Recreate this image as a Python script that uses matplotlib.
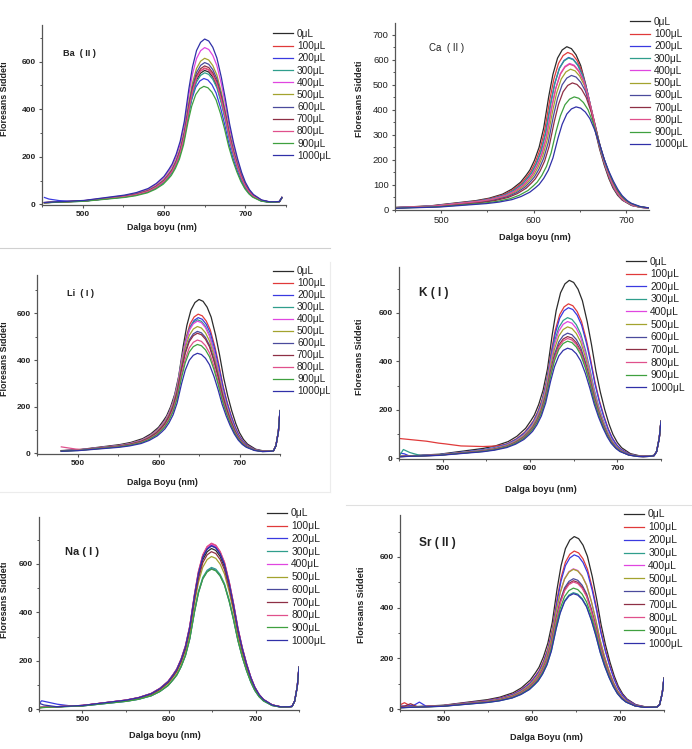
import numpy as np
import matplotlib.pyplot as plt
from matplotlib.lines import Line2D

W, H = 692, 749
DPI = 100
plt.rcParams['font.family'] = ['Liberation Sans', 'DejaVu Sans']

# ---- shared legend ----
LABELS = ['0μL', '100μL', '200μL', '300μL', '400μL', '500μL',
          '600μL', '700μL', '800μL', '900μL', '1000μL']
COLORS = ['#2b2b2b', '#e03a3a', '#3a3ae0', '#2f9e8c', '#e046e0', '#a3a32e',
          '#4a4a9c', '#8e2f45', '#e0508c', '#3fa03f', '#3030a8']

# ---- shared band shape (offset from peak in nm, relative intensity) ----
SHAPE_DX = [-200, -150, -100, -85, -70, -60, -50, -45, -40, -35, -30, -25, -20,
            -15, -10, -5, 0, 5, 10, 15, 20, 25, 30, 35, 40, 45, 50, 55, 60,
            70, 80, 90, 110]
SHAPE_Y = [0.006, 0.018, 0.05, 0.065, 0.09, 0.12, 0.165, 0.20, 0.24, 0.30, 0.38,
           0.50, 0.68, 0.83, 0.93, 0.98, 1.0, 0.988, 0.95, 0.885, 0.78, 0.65,
           0.50, 0.38, 0.28, 0.195, 0.13, 0.085, 0.055, 0.022, 0.01, 0.006, 0.005]

# ---- right-end detector rise, shared by all curves in a panel ----
EDGE_WL = [728, 736, 742, 745, 748, 750]
BA_EDGE = [3, 5, 8, 25, 25, 25]
CA_EDGE = [3, 5, 5, 5, 5, 5]
LI_EDGE = [3, 5, 8, 30, 90, 180]
K_EDGE = [3, 5, 8, 25, 80, 150]
NA_EDGE = [3, 5, 8, 30, 90, 170]
SR_EDGE = [3, 5, 6, 15, 60, 120]

# ---- peak heights and peak wavelengths (0 ... 1000 μL) ----
BA_PEAK = [560, 570, 526, 550, 656, 611, 593, 579, 568, 493, 692]
BA_POS = [650, 650, 649, 650, 650, 650, 650, 650, 650, 649, 650]
CA_PEAK = [650, 627, 607, 605, 583, 560, 535, 505, 580, 449, 409]
CA_POS = [636, 637, 638, 638, 639, 640, 641, 642, 639, 644, 646]
LI_PEAK = [657, 594, 579, 570, 564, 541, 520, 512, 483, 464, 426]
LI_POS = [650, 649, 649, 648, 648, 648, 648, 648, 648, 648, 648]
K_PEAK = [731, 634, 618, 577, 561, 539, 513, 499, 491, 480, 451]
K_POS = [645, 644, 644, 643, 643, 643, 643, 643, 643, 643, 643]
NA_PEAK = [660, 680, 577, 582, 676, 627, 670, 647, 682, 575, 672]
NA_POS = [649, 649, 649, 649, 649, 649, 649, 649, 649, 649, 649]
SR_PEAK = [677, 620, 605, 456, 550, 548, 511, 503, 498, 474, 452]
SR_POS = [648, 648, 648, 647, 647, 647, 647, 647, 647, 647, 647]

# ---- low-wavelength artefacts of single curves: (series, wl, extra) ----
BA_TAILS = [(2, [453, 458, 470, 490], [22, 15, 7, 0])]
LI_TAILS = [(8, [480, 495, 510], [18, 8, 0])]
K_TAILS = [(1, [450, 480, 500, 520, 545, 570], [74, 59, 44, 26, 13, 0]),
           (3, [450, 455, 462, 475], [0, 28, 15, 0]),
           (2, [450, 456, 462], [14, 10, 0])]
NA_TAILS = [(2, [450, 453, 470, 490], [15, 28, 12, 0]),
            (10, [450, 455, 470], [18, 10, 0])]
SR_TAILS = [(1, [450, 455, 460, 470], [10, 18, 8, 0]),
            (2, [465, 472, 480], [5, 18, 0]),
            (7, [455, 462, 470], [5, 14, 0])]


def fx(x):
    return x / W


def fy(y):
    return 1 - y / H


PANELS = [
    dict(name='Ba  ( II )', box=(42, 25, 286, 205), xlim=(450, 750), ylim=(-3, 754),
         span=(453, 745), peak=BA_PEAK, pos=BA_POS, edge=BA_EDGE, tails=BA_TAILS,
         ymaj=200, ymin=100, bold=True, tick_fs=6.0, lab_fs=6.4,
         title_xy=(63, 53), title_fs=6.6, title_bold=True,
         leg_xy=(273, 35), leg_dy=12.2, leg_fs=7.2,
         xlabel='Dalga boyu (nm)', xlab_xy=(162, 228),
         ylab_xy=(5, 99)),
    dict(name='Ca  ( II )', box=(395, 23, 649, 210), xlim=(450, 725), ylim=(-1, 748),
         span=(450, 725), peak=CA_PEAK, pos=CA_POS, edge=CA_EDGE, tails=[],
         ymaj=100, ymin=50, bold=False, tick_fs=6.8, lab_fs=6.6,
         title_xy=(429, 48), title_fs=7.0, title_bold=False,
         leg_xy=(630, 23), leg_dy=12.4, leg_fs=7.3,
         xlabel='Dalga boyu (nm)', xlab_xy=(535, 237),
         ylab_xy=(359, 99)),
    dict(name='Li  ( I )', box=(37, 275, 280, 454), xlim=(480, 750), ylim=(-3, 765),
         span=(480, 750), peak=LI_PEAK, pos=LI_POS, edge=LI_EDGE, tails=LI_TAILS,
         ymaj=200, ymin=100, bold=True, tick_fs=6.0, lab_fs=6.4,
         title_xy=(67, 293), title_fs=6.6, title_bold=True,
         leg_xy=(273, 272), leg_dy=12.0, leg_fs=7.2,
         xlabel='Dalga Boyu (nm)', xlab_xy=(162, 483),
         ylab_xy=(5, 359)),
    dict(name='K ( I )', box=(399, 267, 661, 459), xlim=(450, 750), ylim=(-3, 789),
         span=(450, 750), peak=K_PEAK, pos=K_POS, edge=K_EDGE, tails=K_TAILS,
         ymaj=200, ymin=100, bold=True, tick_fs=6.0, lab_fs=6.6,
         title_xy=(419, 293), title_fs=8.6, title_bold=True,
         leg_xy=(626, 263), leg_dy=12.9, leg_fs=7.4,
         xlabel='Dalga boyu (nm)', xlab_xy=(541, 490),
         ylab_xy=(360, 357)),
    dict(name='Na ( I )', box=(39, 517, 299, 710), xlim=(450, 750), ylim=(-3, 793),
         span=(450, 750), peak=NA_PEAK, pos=NA_POS, edge=NA_EDGE, tails=NA_TAILS,
         ymaj=200, ymin=100, bold=True, tick_fs=6.0, lab_fs=6.6,
         title_xy=(65, 552), title_fs=8.0, title_bold=True,
         leg_xy=(267, 515), leg_dy=13.0, leg_fs=7.4,
         xlabel='Dalga boyu (nm)', xlab_xy=(165, 735),
         ylab_xy=(5, 600)),
    dict(name='Sr ( II )', box=(400, 515, 664, 710), xlim=(450, 750), ylim=(-3, 765),
         span=(450, 750), peak=SR_PEAK, pos=SR_POS, edge=SR_EDGE, tails=SR_TAILS,
         ymaj=200, ymin=100, bold=True, tick_fs=6.0, lab_fs=6.6,
         title_xy=(419, 543), title_fs=8.6, title_bold=True,
         leg_xy=(624, 516), leg_dy=13.2, leg_fs=7.4,
         xlabel='Dalga Boyu (nm)', xlab_xy=(546, 737),
         ylab_xy=(361, 605)),
]

fig = plt.figure(figsize=(W / DPI, H / DPI), dpi=DPI)
TXT = '#222222'

for p in PANELS:
    l, t, r, b = p['box']
    ax = fig.add_axes([fx(l), fy(b), (r - l) / W, (b - t) / H])
    wl = np.arange(p['span'][0], p['span'][1] + 0.5, 0.5)
    edge = np.interp(wl, EDGE_WL, p['edge'], left=p['edge'][0])
    for i in range(len(LABELS)):
        y = p['peak'][i] * np.interp(wl - p['pos'][i], SHAPE_DX, SHAPE_Y) + edge
        for s, twl, tval in p['tails']:
            if s == i:
                y = y + np.interp(wl, twl, tval, left=tval[0], right=0)
        ax.plot(wl, y, color=COLORS[i], lw=0.9, label=LABELS[i])

    ax.set_xlim(*p['xlim'])
    ax.set_ylim(*p['ylim'])
    ax.set_xticks([500, 600, 700])
    ax.set_xticks(np.arange(450, p['xlim'][1] + 1, 50), minor=True)
    ax.set_yticks(np.arange(0, p['ylim'][1], p['ymaj']))
    ax.set_yticks(np.arange(0, p['ylim'][1], p['ymin']), minor=True)
    for side in ['top', 'right']:
        ax.spines[side].set_visible(False)
    for side in ['left', 'bottom']:
        ax.spines[side].set_color('#555555')
        ax.spines[side].set_linewidth(0.9)
    ax.tick_params(which='major', direction='out', length=2.5, width=0.8,
                   color='#555555', labelsize=p['tick_fs'], labelcolor=TXT, pad=2)
    ax.tick_params(which='minor', direction='out', length=1.5, width=0.7,
                   color='#555555')
    weight = 'bold' if p['bold'] else 'normal'
    for lab in ax.get_xticklabels() + ax.get_yticklabels():
        lab.set_fontweight(weight)

    fig.text(fx(p['title_xy'][0]), fy(p['title_xy'][1]), p['name'],
             fontsize=p['title_fs'], color=TXT, va='center', ha='left',
             fontweight='bold' if p['title_bold'] else 'normal')
    fig.text(fx(p['xlab_xy'][0]), fy(p['xlab_xy'][1]), p['xlabel'],
             fontsize=p['lab_fs'], color=TXT, ha='center', va='center',
             fontweight='bold')
    fig.text(fx(p['ylab_xy'][0]), fy(p['ylab_xy'][1]), 'Floresans Siddeti',
             fontsize=p['lab_fs'], color=TXT, ha='center', va='center',
             rotation=90, fontweight='bold')

    fs_px = p['leg_fs'] * DPI / 72
    lx, ly = p['leg_xy']
    ax.legend(loc='upper left', bbox_to_anchor=(fx(lx), fy(ly - p['leg_dy'] / 2)),
              bbox_transform=fig.transFigure, frameon=False, borderpad=0,
              borderaxespad=0, handlelength=20 / fs_px, handletextpad=0.4,
              labelspacing=max((p['leg_dy'] - 1.0 * fs_px) / fs_px, 0.0),
              prop={'size': p['leg_fs']}, labelcolor=TXT)

# light separators from the original layout
fig.add_artist(Line2D([fx(0), fx(330)], [fy(248), fy(248)], color='#d0d0d0', lw=0.8))
fig.add_artist(Line2D([fx(330), fx(330)], [fy(262), fy(492)], color='#ececec', lw=0.8))
fig.add_artist(Line2D([fx(0), fx(330)], [fy(492), fy(492)], color='#ececec', lw=0.8))
fig.add_artist(Line2D([fx(346), fx(692)], [fy(505), fy(505)], color='#e0e0e0', lw=0.8))

fig.savefig('out.png', dpi=DPI)
